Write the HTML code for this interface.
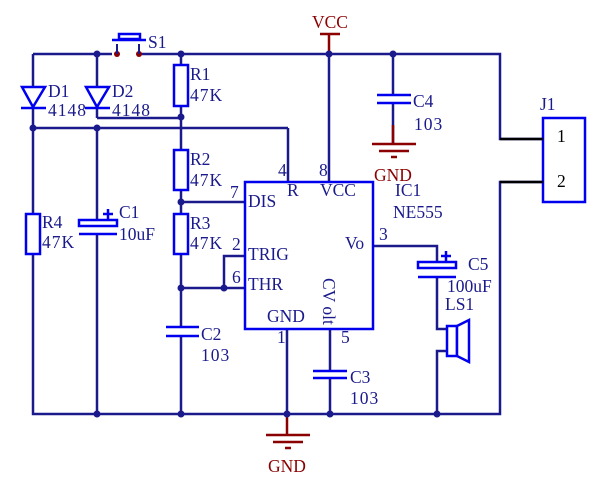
<!DOCTYPE html>
<html><head><meta charset="utf-8"><style>
html,body{margin:0;padding:0;background:#fff;}
svg{display:block}
text{font-family:"Liberation Serif",serif;font-size:17.5px;fill:#1a1a8c}
.r{fill:#8b0000}
</style></head><body>
<svg width="613" height="485" viewBox="0 0 613 485" xmlns="http://www.w3.org/2000/svg">
<g stroke="#1a1a8c" stroke-width="2.5" fill="none">
<polyline points="33,54 112,54"/>
<polyline points="139,54 500,54 500,139 543,139"/>
<polyline points="543,182 500,182 500,414 33,414 33,54"/>
<line x1="97" y1="54" x2="97" y2="118"/>
<polyline points="97,118 181,118"/>
<line x1="33" y1="128" x2="288" y2="128"/>
<line x1="288" y1="128" x2="288" y2="182"/>
<line x1="97" y1="128" x2="97" y2="414"/>
<line x1="181" y1="54" x2="181" y2="414"/>
<line x1="181" y1="202" x2="245" y2="202"/>
<line x1="181" y1="288" x2="245" y2="288"/>
<polyline points="224,288 224,256 245,256"/>
<line x1="329" y1="54" x2="329" y2="182"/>
<line x1="393" y1="54" x2="393" y2="144"/>
<line x1="287" y1="329" x2="287" y2="414"/>
<line x1="330" y1="329" x2="330" y2="414"/>
<polyline points="373,246 437,246 437,329 447,329"/>
<polyline points="447,351 437,351 437,414"/>
</g>
<g fill="#fff">
<rect x="160" y="328" width="42" height="7"/>
<rect x="306" y="371" width="48" height="7"/>
<rect x="372" y="96" width="44" height="7"/>
<rect x="76" y="226" width="44" height="8"/>
<rect x="415" y="268" width="44" height="9"/>
</g>
<g stroke="#0000ee" stroke-width="2.5" fill="#fff">
<rect x="174" y="65" width="14" height="41"/>
<rect x="174" y="150" width="14" height="40"/>
<rect x="174" y="214" width="14" height="40"/>
<rect x="26" y="214" width="14" height="40"/>
<polygon points="22,87 45,87 33,107"/>
<line x1="21" y1="108" x2="46" y2="108"/>
<polygon points="86,87 109,87 97,107"/>
<line x1="85" y1="108" x2="110" y2="108"/>
<line x1="166" y1="327" x2="199" y2="327"/><line x1="166" y1="336" x2="199" y2="336"/>
<line x1="313" y1="371" x2="347" y2="371"/><line x1="313" y1="378" x2="347" y2="378"/>
<line x1="377" y1="95" x2="411" y2="95"/><line x1="377" y1="103" x2="411" y2="103"/>
<rect x="79" y="220" width="38" height="6"/><line x1="79" y1="234" x2="117" y2="234"/>
<line x1="103" y1="214" x2="113" y2="214"/><line x1="108" y1="209" x2="108" y2="219"/>
<rect x="418" y="262" width="38" height="6"/><line x1="418" y1="277" x2="456" y2="277"/>
<line x1="441" y1="256" x2="451" y2="256"/><line x1="446" y1="251" x2="446" y2="261"/>
<rect x="447" y="326" width="10" height="30"/>
<polygon points="457,326 469,320 469,362 457,356"/>
<rect x="245" y="182" width="128" height="147"/>
<rect x="543" y="118" width="42" height="84"/>
<line x1="112" y1="40" x2="146" y2="40"/>
<rect x="119" y="34" width="21" height="5"/>
</g>
<g stroke="#000" stroke-width="2.5">
<line x1="500" y1="139" x2="543" y2="139"/>
<line x1="500" y1="182" x2="543" y2="182"/>
</g>
<g fill="#8b0000"><circle cx="117" cy="54" r="3"/><circle cx="139" cy="54" r="3"/></g>
<line x1="117" y1="44" x2="117" y2="54" stroke="#1a1a8c" stroke-width="2"/>
<line x1="139" y1="44" x2="139" y2="54" stroke="#1a1a8c" stroke-width="2"/>
<g stroke="#8b0000" stroke-width="2.5">
<line x1="320" y1="34" x2="340" y2="34"/><line x1="329" y1="34" x2="329" y2="54"/>
<line x1="393" y1="125" x2="393" y2="144"/>
<line x1="372" y1="144" x2="416" y2="144"/><line x1="379" y1="151" x2="409" y2="151"/><line x1="391" y1="157" x2="397" y2="157"/>
<line x1="287" y1="414" x2="287" y2="435"/>
<line x1="266" y1="435" x2="310" y2="435"/><line x1="273" y1="442" x2="303" y2="442"/><line x1="285" y1="448" x2="291" y2="448"/>
</g>
<g fill="#1a1a8c">
<circle cx="97" cy="54" r="3.5"/><circle cx="181" cy="54" r="3.5"/><circle cx="329" cy="54" r="3.5"/><circle cx="393" cy="54" r="3.5"/>
<circle cx="181" cy="117" r="3.5"/><circle cx="33" cy="128" r="3.5"/><circle cx="97" cy="128" r="3.5"/>
<circle cx="181" cy="202" r="3.5"/><circle cx="181" cy="288" r="3.5"/><circle cx="224" cy="288" r="3.5"/>
<circle cx="97" cy="414" r="3.5"/><circle cx="181" cy="414" r="3.5"/><circle cx="287" cy="414" r="3.5"/><circle cx="330" cy="414" r="3.5"/><circle cx="437" cy="414" r="3.5"/>
</g>
<text x="148" y="48">S1</text>
<text x="48" y="97">D1</text><text x="48" y="116" letter-spacing="1">4148</text>
<text x="112" y="97">D2</text><text x="112" y="116" letter-spacing="1">4148</text>
<text x="190" y="80">R1</text><text x="190" y="101" letter-spacing="1">47K</text>
<text x="190" y="165">R2</text><text x="190" y="186" letter-spacing="1">47K</text>
<text x="190" y="229">R3</text><text x="190" y="249" letter-spacing="1">47K</text>
<text x="42" y="228">R4</text><text x="42" y="248" letter-spacing="1">47K</text>
<text x="119" y="218">C1</text><text x="119" y="240">10uF</text>
<text x="201" y="340">C2</text><text x="201" y="361" letter-spacing="1">103</text>
<text x="350" y="383">C3</text><text x="350" y="404" letter-spacing="1">103</text>
<text x="413" y="107">C4</text><text x="414" y="130" letter-spacing="1">103</text>
<text x="468" y="270">C5</text><text x="447" y="292">100uF</text>
<text x="445" y="310">LS1</text>
<text x="540" y="110">J1</text>
<text x="557" y="142" style="fill:#000">1</text>
<text x="557" y="187" style="fill:#000">2</text>
<text x="395" y="196">IC1</text><text x="393" y="218">NE555</text>
<text x="312" y="28" class="r">VCC</text>
<text x="374" y="181" class="r">GND</text>
<text x="268" y="472" class="r">GND</text>
<text x="278" y="176">4</text><text x="319" y="176">8</text>
<text x="230" y="198">7</text><text x="232" y="250">2</text><text x="232" y="283">6</text>
<text x="379" y="240">3</text><text x="277" y="343">1</text><text x="341" y="343">5</text>
<text x="287" y="196">R</text><text x="320" y="196">VCC</text>
<text x="248" y="207">DIS</text><text x="248" y="260">TRIG</text><text x="248" y="290">THR</text>
<text x="345" y="249">Vo</text><text x="267" y="322">GND</text>
<text x="0" y="0" transform="translate(323,278) rotate(90)">CV olt</text>
</svg>
</body></html>
